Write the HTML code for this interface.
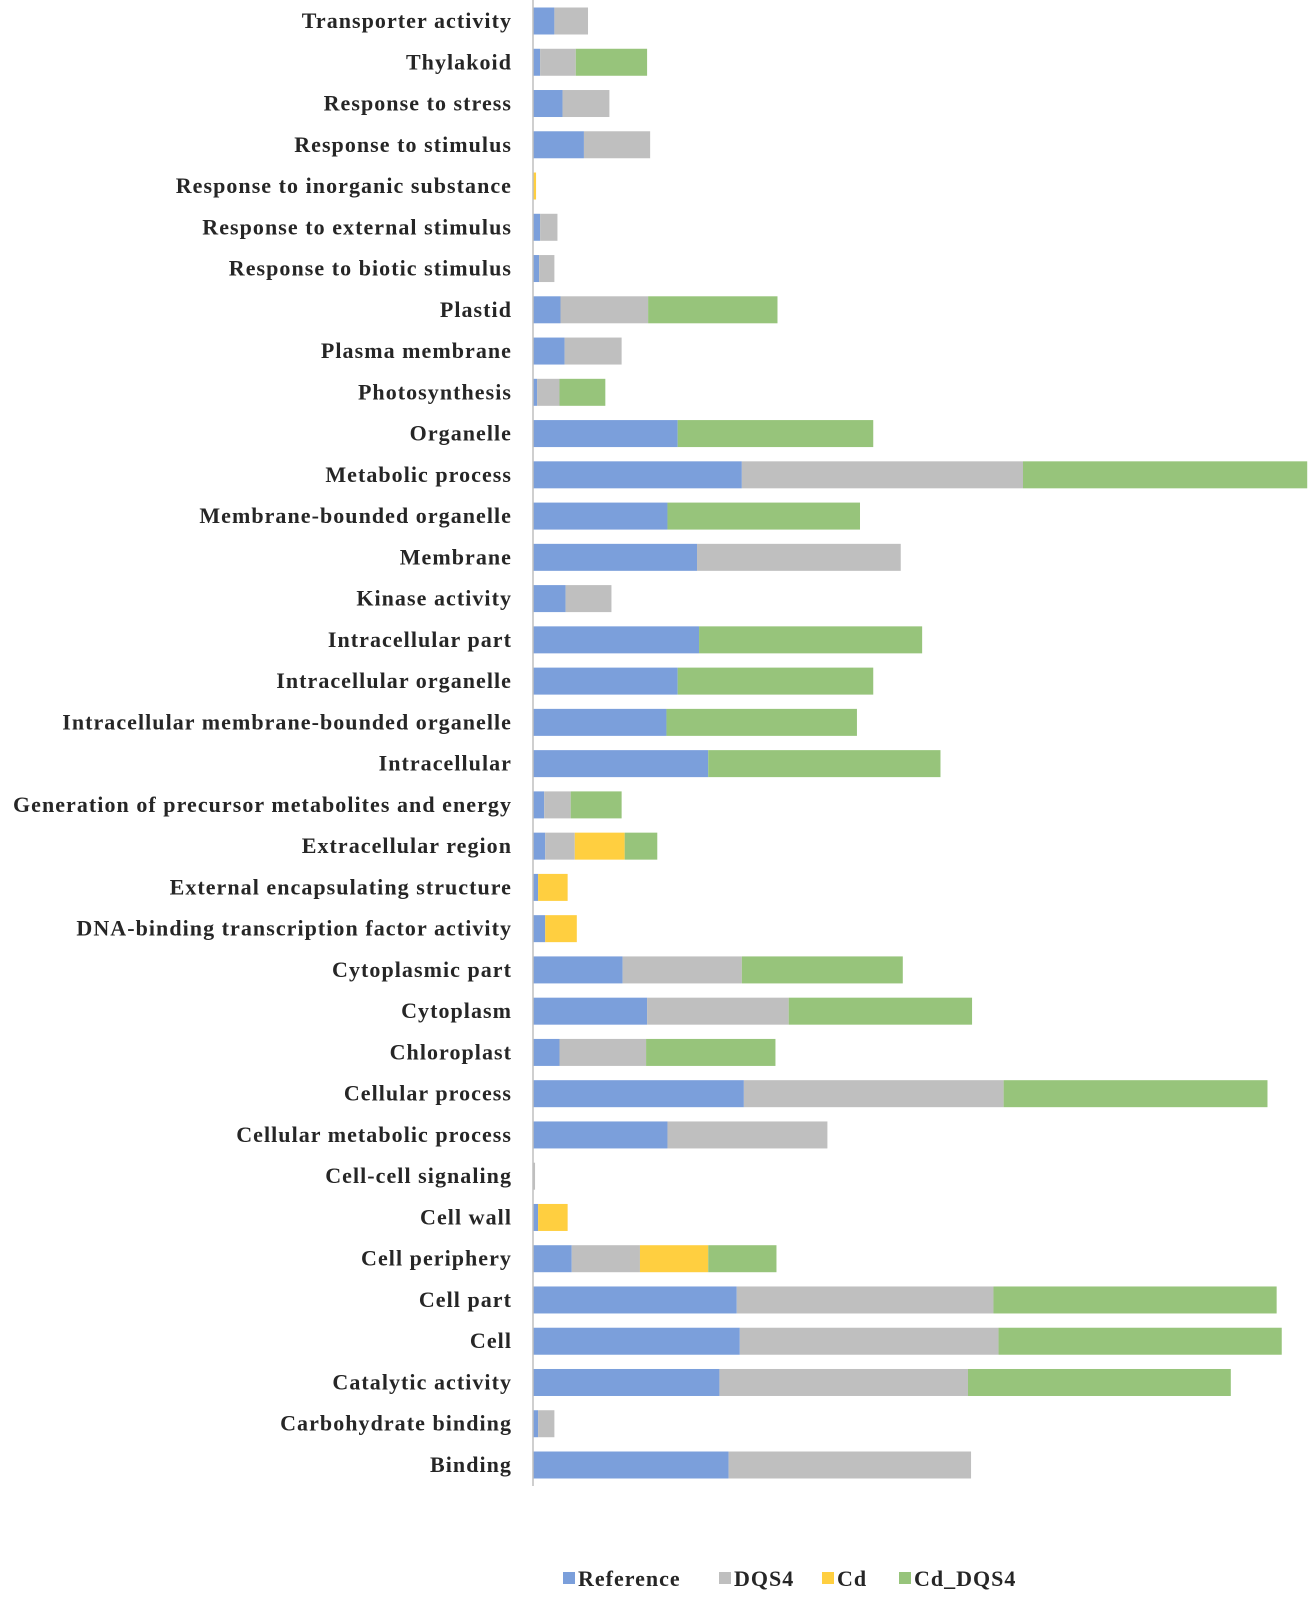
<!DOCTYPE html>
<html><head><meta charset="utf-8"><style>
html,body{margin:0;padding:0;background:#fff;}
svg{display:block;}
text{font-family:"Liberation Serif",serif;font-weight:bold;fill:#262626;}
</style></head><body>
<svg id="chart" width="1309" height="1597" xmlns="http://www.w3.org/2000/svg"></svg>
<script>
const categories = ["Transporter activity","Thylakoid","Response to stress","Response to stimulus","Response to inorganic substance","Response to external stimulus","Response to biotic stimulus","Plastid","Plasma membrane","Photosynthesis","Organelle","Metabolic process","Membrane-bounded organelle","Membrane","Kinase activity","Intracellular part","Intracellular organelle","Intracellular membrane-bounded organelle","Intracellular","Generation of precursor metabolites and energy","Extracellular region","External encapsulating structure","DNA-binding transcription factor activity","Cytoplasmic part","Cytoplasm","Chloroplast","Cellular process","Cellular metabolic process","Cell-cell signaling","Cell wall","Cell periphery","Cell part","Cell","Catalytic activity","Carbohydrate binding","Binding"];
const reference = [21,7,29,50,0,7,6,27,31,4,142,205,132,161,32,163,142,131,172,11,12,5,12,88,112,26,207,132,0,5,38,200,203,183,5,192];
const dqs4 = [33,35,46,65,0,17,15,86,56,22,0,276,0,200,45,0,0,0,0,26,29,0,0,117,139,85,255,157,2,0,67,252,254,244,16,238];
const cd = [0,0,0,0,3,0,0,0,0,0,0,0,0,0,0,0,0,0,0,0,49,29,31,0,0,0,0,0,0,29,67,0,0,0,0,0];
const cdDqs4 = [0,70,0,0,0,0,0,127,0,45,192,279,189,0,0,219,192,187,228,50,32,0,0,158,180,127,259,0,0,0,67,278,278,258,0,0];
const seriesNames = ["Reference","DQS4","Cd","Cd_DQS4"];
const seriesKeys = ["reference","dqs4","cd","cd-dqs4"];
const seriesColors = ["#7b9fdb","#bfbfbf","#ffcf40","#97c47b"];
const series = [reference,dqs4,cd,cdDqs4];

const svg = document.getElementById('chart');
const NS = "http://www.w3.org/2000/svg";
const x0 = 533, k = 1.0187;
const y0 = 21, step = (1465-21)/(categories.length-1), bh = 27;
const xScale = v => v*k;
const yScale = i => y0 + i*step;
function mk(tag, attrs){const e=document.createElementNS(NS,tag);for(const a in attrs)e.setAttribute(a,attrs[a]);svg.appendChild(e);return e;}

categories.forEach((c,i)=>{
  const cy = yScale(i);
  const t = mk('text',{x:512,y:cy+7,'text-anchor':'end','font-size':22,'letter-spacing':1.05});
  t.textContent = c;
  
  
  let acc = 0;
  series.forEach((s,j)=>{
    const v = s[i];
    if(v>0){
      const r = mk('rect',{x:x0+xScale(acc),y:cy-bh/2,width:xScale(v),height:bh,fill:seriesColors[j]});
      
      
    }
    acc += v;
  });
});
const ax = mk('line',{x1:x0,y1:0,x2:x0,y2:1486,stroke:'#bfbfbf','stroke-width':1.5});



const legX = [563,719,822,899];
seriesNames.forEach((n,j)=>{
  const sq = mk('rect',{x:legX[j],y:1572,width:12,height:12,fill:seriesColors[j]});
  
  
  const t = mk('text',{x:legX[j]+15,y:1586,'font-size':22,'letter-spacing':1});
  t.textContent = n;
  
  
});
</script>
</body></html>
